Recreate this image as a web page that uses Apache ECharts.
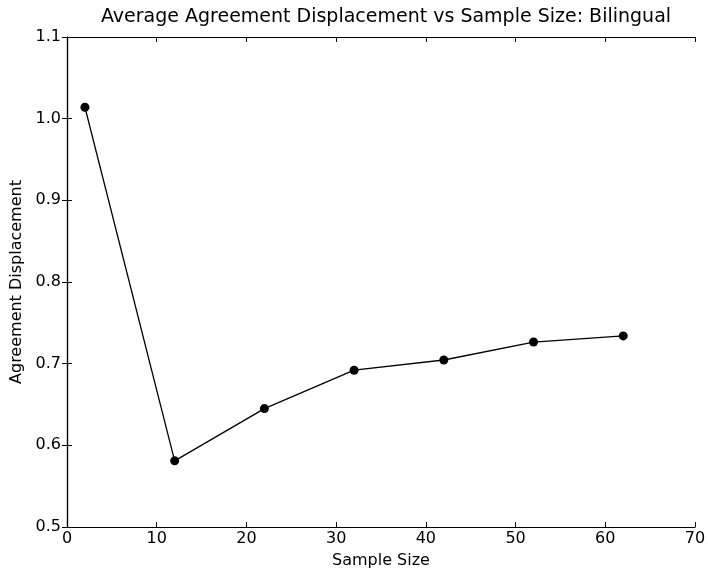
<!DOCTYPE html>
<html>
<head>
<meta charset="utf-8">
<script src="https://cdn.jsdelivr.net/npm/echarts@6/dist/echarts.min.js"></script>
<style>
  html, body { margin: 0; padding: 0; background: #fff; }
  #chart { width: 708px; height: 573px; }
</style>
</head>
<body>
<div id="chart"></div>
<script>
// Sample sizes and the average agreement displacement measured at each
const sampleSizes = [2, 12, 22, 32, 42, 52, 62];
const displacement = [1.014, 0.581, 0.645, 0.692, 0.7045, 0.7265, 0.734];

const titleText = 'Average Agreement Displacement vs Sample Size: Bilingual';
const xLabel = 'Sample Size';
const yLabel = 'Agreement Displacement';

const FONT = 'DejaVu Sans';
const frameLine = { show: true, lineStyle: { color: '#000', width: 1.2 } };
const innerTick = { show: true, inside: true, length: 5, lineStyle: { color: '#000', width: 1 } };

const chart = echarts.init(document.getElementById('chart'), null, { renderer: 'canvas' });
chart.setOption({
  animation: false,
  backgroundColor: '#fff',
  title: {
    text: titleText,
    left: 381, top: 3, textAlign: 'center',
    textStyle: { fontFamily: FONT, fontSize: 19, fontWeight: 'normal', color: '#000' }
  },
  grid: { left: 67, right: 13, top: 37, bottom: 46, containLabel: false, outerBoundsMode: 'none' },
  xAxis: [
    {
      type: 'value', min: 0, max: 70, interval: 10,
      name: xLabel, nameLocation: 'middle', nameGap: 26,
      nameTextStyle: { fontFamily: FONT, fontSize: 16, color: '#000' },
      axisLine: frameLine, axisTick: innerTick, splitLine: { show: false },
      axisLabel: { fontFamily: FONT, fontSize: 16, color: '#000', margin: 4 }
    },
    {
      type: 'value', min: 0, max: 70, interval: 10, position: 'top',
      axisLine: frameLine, axisTick: innerTick, splitLine: { show: false },
      axisLabel: { show: false }
    }
  ],
  yAxis: [
    {
      type: 'value', min: 0.5, max: 1.1, interval: 0.1,
      name: yLabel, nameLocation: 'middle', nameGap: 35,
      nameTextStyle: { fontFamily: FONT, fontSize: 16, color: '#000' },
      axisLine: frameLine, axisTick: innerTick, splitLine: { show: false },
      axisLabel: {
        fontFamily: FONT, fontSize: 16, color: '#000', margin: 6,
        formatter: v => v.toFixed(1)
      }
    },
    {
      type: 'value', min: 0.5, max: 1.1, interval: 0.1, position: 'right',
      axisLine: frameLine, axisTick: innerTick, splitLine: { show: false },
      axisLabel: { show: false }
    }
  ],
  series: [{
    type: 'line',
    data: sampleSizes.map((x, i) => [x, displacement[i]]),
    symbol: 'circle', symbolSize: 9,
    itemStyle: { color: '#000' },
    lineStyle: { color: '#000', width: 1.3 },
    emphasis: { disabled: true }
  }]
});
</script>
</body>
</html>
